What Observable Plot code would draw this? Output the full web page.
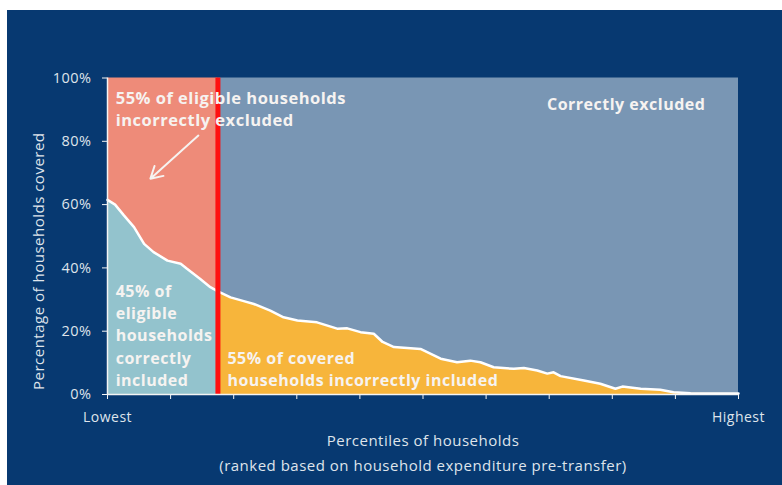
<!DOCTYPE html>
<html>
<head>
<meta charset="utf-8">
<script src="https://cdn.jsdelivr.net/npm/d3@7"></script>
<script src="https://cdn.jsdelivr.net/npm/@observablehq/plot@0.6"></script>
<style>
  html, body { margin: 0; padding: 0; background: #ffffff; }
  #chart { position: absolute; left: 7px; top: 10px; }
  #chart svg { display: block; }
</style>
</head>
<body>
<div id="chart"></div>
<script>
// Household percentile (ranked by expenditure, pre-transfer) and the share covered by the programme
const percentile = [0, 1.2, 2.6, 4.2, 5.8, 7.3, 9.5, 11.6, 12.6, 14.7, 16.3, 17.5,
  19.5, 21.6, 23.2, 25.8, 27.9, 30.1, 33.2, 36.4, 38.0, 40.1, 42.2, 43.6, 45.4,
  49.6, 52.8, 55.4, 57.5, 59.1, 61.2, 64.4, 66.0, 68.1, 69.7, 70.7, 71.8, 75.5,
  78.1, 80.5, 81.6, 84.5, 87.6, 89.7, 92.4, 100];
const coverage = [61.5, 60.0, 56.6, 52.9, 47.6, 45.0, 42.3, 41.3, 39.7, 36.5, 33.9, 32.6,
  30.7, 29.5, 28.6, 26.5, 24.4, 23.4, 22.8, 20.8, 20.9, 19.7, 19.2, 16.6, 15.0,
  14.4, 11.3, 10.2, 10.7, 10.2, 8.6, 8.1, 8.4, 7.6, 6.6, 7.0, 5.8, 4.4,
  3.4, 1.8, 2.5, 1.8, 1.5, 0.7, 0.4, 0.3];

// Eligibility cut-off (percentile) and axis ticks
const threshold = 17.5;
const yTicks = [0, 20, 40, 60, 80, 100];
const xTicks = [0, 10, 20, 30, 40, 50, 60, 70, 80, 90, 100];
const xTickLabels = {0: "Lowest", 100: "Highest"};

const rows = percentile.map((p, i) => ({p, c: coverage[i]}));
const eligible = rows.filter(d => d.p <= threshold);
const ineligible = rows.filter(d => d.p >= threshold);

const regions = [
  {x1: 0, x2: threshold, y1: 0, y2: 100, fill: "#ee8b79"},
  {x1: threshold, x2: 100, y1: 0, y2: 100, fill: "#7996b4"}
];

// Region annotations
const topNotes = [{x: 1.3, y: 90.5, text: "55% of eligible households\nincorrectly excluded"}];
const lowerNotes = [
  {x: 1.3, y: 19.0, text: "45% of\neligible\nhouseholds\ncorrectly\nincluded"},
  {x: 19.0, y: 8.4, text: "55% of covered\nhouseholds incorrectly included"}
];
const centreNotes = [{x: 82.2, y: 91.5, text: "Correctly excluded"}];
const pointer = [{x1: 14.4, y1: 81.8, x2: 6.8, y2: 68.2}];

const textColor = "#dfe4eb";
const noteColor = "#f6f3f1";

const chart = Plot.plot({
  width: 775,
  height: 475,
  marginLeft: 100,
  marginRight: 44,
  marginTop: 67.5,
  marginBottom: 91,
  style: {background: "#073971", color: textColor, fontFamily: "'Open Sans', sans-serif", letterSpacing: "0.5px"},
  x: {domain: [0, 100]},
  y: {domain: [0, 100]},
  marks: [
    Plot.rect(regions, {x1: "x1", x2: "x2", y1: "y1", y2: "y2", fill: "fill"}),
    Plot.areaY(eligible, {x: "p", y: "c", fill: "#93c3cd"}),
    Plot.areaY(ineligible, {x: "p", y: "c", fill: "#f7b53b"}),
    Plot.line(rows, {x: "p", y: "c", stroke: "#ffffff", strokeWidth: 2.5}),
    Plot.ruleX([threshold], {stroke: "#ff1010", strokeWidth: 5}),
    Plot.ruleY([0], {stroke: "#f4f4f4", strokeWidth: 1.5}),
    Plot.ruleX([0], {stroke: "#f4f4f4", strokeWidth: 1.5}),
    Plot.axisY({ticks: yTicks, tickFormat: d => d + "%", tickSize: 5, tickPadding: 11,
      stroke: "#f4f4f4", fill: textColor, fontSize: 14.5, label: null}),
    Plot.axisX({ticks: xTicks, tickFormat: d => xTickLabels[d] ?? "", tickSize: 5, tickPadding: 13,
      stroke: "#f4f4f4", fill: textColor, fontSize: 14, label: null}),
    Plot.text(["Percentiles of households"], {frameAnchor: "bottom", dy: 51, fontSize: 15, fill: textColor}),
    Plot.text(["(ranked based on household expenditure pre-transfer)"], {frameAnchor: "bottom", dy: 76, fontSize: 15, fill: textColor}),
    Plot.text(["Percentage of households covered"], {frameAnchor: "left", textAnchor: "middle", rotate: -90,
      dx: -68, dy: 25, fontSize: 15, fill: textColor}),
    Plot.text(topNotes, {x: "x", y: "y", text: "text", textAnchor: "start", lineAnchor: "middle",
      lineHeight: 1.33, fontSize: 16.5, fontWeight: "bold", fill: noteColor}),
    Plot.text(lowerNotes, {x: "x", y: "y", text: "text", textAnchor: "start", lineAnchor: "middle",
      lineHeight: 1.38, fontSize: 16, fontWeight: "bold", fill: noteColor}),
    Plot.text(centreNotes, {x: "x", y: "y", text: "text", textAnchor: "middle",
      fontSize: 16, fontWeight: "bold", fill: noteColor}),
    Plot.arrow(pointer, {x1: "x1", y1: "y1", x2: "x2", y2: "y2", stroke: noteColor, strokeWidth: 2, headLength: 10})
  ]
});
document.getElementById("chart").appendChild(chart);
</script>
</body>
</html>
